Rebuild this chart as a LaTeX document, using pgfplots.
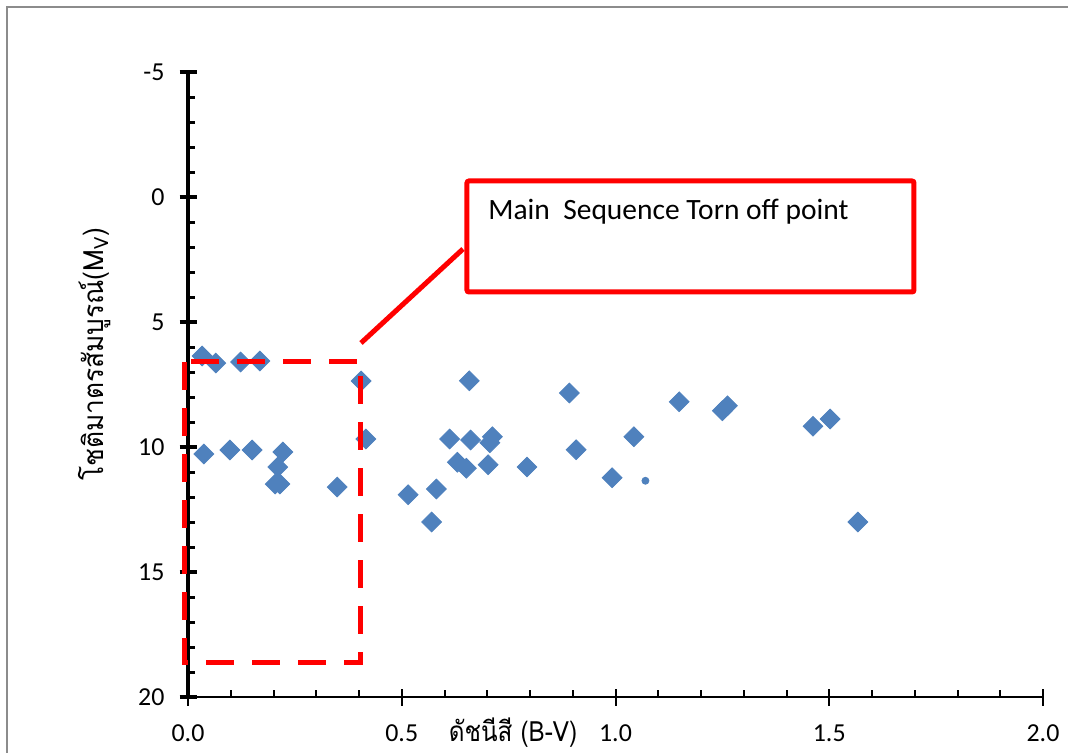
\documentclass[border=0pt]{standalone}
\usepackage{pgfplots}
\pgfplotsset{compat=1.18}
\usepackage{fontspec}
\setmainfont{Carlito}
\newfontfamily\thaifont[Script=Thai]{Loma}
\newfontfamily\thaifontx[Script=Thai, FakeStretch=0.87]{Loma}
\newfontfamily\thaifonty[Script=Thai, FakeStretch=0.94]{Loma}
\definecolor{mblue}{HTML}{4F81BD}
\definecolor{framegray}{HTML}{8C8C8C}
\begin{document}
\begin{tikzpicture}
\useasboundingbox (0,0) rectangle (534bp,-376.5bp);
\begin{axis}[
 at={(94bp,-348.5bp)}, anchor=south west,
 scale only axis, width=427.5bp, height=312.5bp,
 xmin=0, xmax=2, ymin=-5, ymax=20, y dir=reverse,
 axis x line=bottom, axis y line=left,
 axis line style={-},
 x axis line style={line width=1bp},
 y axis line style={line width=2bp},
 xtick={0,0.5,1,1.5,2}, xticklabels={0.0,0.5,1.0,1.5,2.0},
 ytick={-5,0,5,10,15,20}, yticklabels={-5,0,5,10,15,20},
 minor x tick num=4, minor y tick num=4,
 tick align=center,
 major tick length=8.5bp, minor tick length=3.5bp,
 major x tick style={line width=1bp, black},
 minor x tick style={line width=1bp, black, yshift=1.75bp},
 major y tick style={line width=2bp, black},
 minor y tick style={line width=1.5bp, black, xshift=1.75bp},
 ticklabel style={font=\fontsize{13}{15}\selectfont},
 xticklabel style={yshift=-6bp},
 yticklabel style={xshift=-4bp},
 clip=false,
]
\addplot[only marks, mark=square*, mark size=3.5bp, mark options={rotate=45, fill=mblue, draw=mblue}] table {
x y
0.033 6.36
0.065 6.64
0.123 6.60
0.168 6.56
0.405 7.36
0.037 10.28
0.098 10.12
0.150 10.12
0.222 10.20
0.210 10.80
0.204 11.48
0.215 11.48
0.349 11.60
0.416 9.68
0.658 7.35
0.612 9.68
0.661 9.72
0.712 9.59
0.706 9.83
0.630 10.61
0.651 10.85
0.702 10.71
0.793 10.80
0.515 11.91
0.581 11.68
0.570 13.00
0.892 7.84
0.908 10.11
0.992 11.23
1.043 9.59
1.149 8.19
1.250 8.55
1.262 8.35
1.462 9.17
1.502 8.88
1.567 13.00
};
\addplot[only marks, mark=*, mark size=1.75bp, mark options={fill=mblue, draw=mblue}] table {
x y
1.070 11.35
};
\end{axis}
\begin{scope}[x=0.5bp,y=-0.5bp]
\draw[framegray, line width=0.75bp] (7,770) -- (7,7) -- (1080,7);
\draw[red, line width=2.5bp, dash pattern=on 14bp off 9bp] (185,362) rectangle (361,663);
\draw[red, line width=2.5bp] (361,343) -- (463,249);
\draw[red, line width=2.5bp, rounded corners=1bp] (467,181) rectangle (914,292);
\node[anchor=base west, font=\fontsize{14.8}{17}\selectfont, inner sep=0pt] at (488,220) {Main\ \ Sequence Torn off point};
\node[rotate=90, font=\thaifonty\fontsize{14}{16}\selectfont] at (95,354) {โชติมาตรสัมบูรณ์(M\textsubscript{V})};
\node[anchor=base, inner sep=0pt, font=\thaifontx\fontsize{14}{16}\selectfont] at (513,742) {ดัชนีสี (B-V)};
\end{scope}
\end{tikzpicture}
\end{document}
